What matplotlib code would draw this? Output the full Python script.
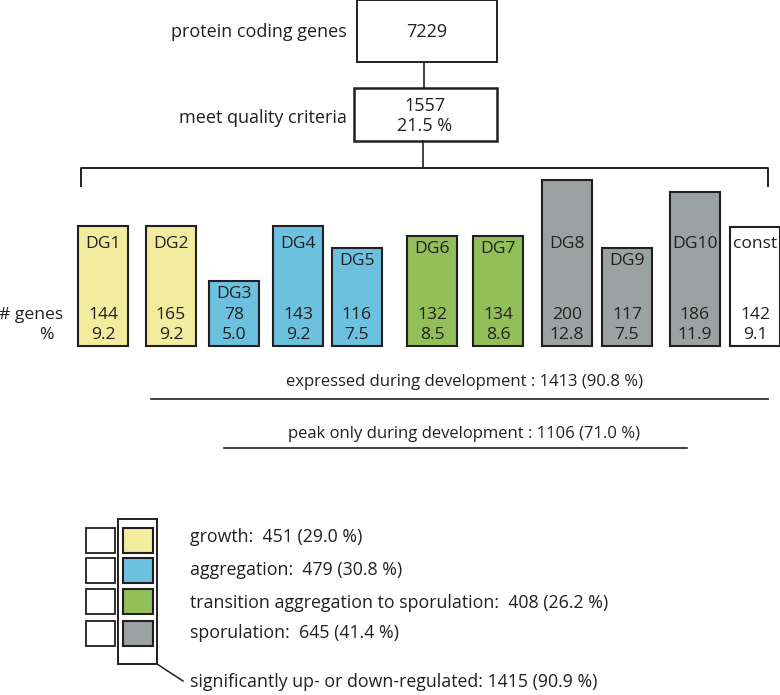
import numpy as np
from matplotlib import pyplot as plt
from matplotlib.patches import Rectangle
import matplotlib as mpl

mpl.rcParams['font.family'] = 'Open Sans'

# data
total_genes = 7229
quality_n = 1557
quality_pct = 21.5
groups = ['DG1', 'DG2', 'DG3', 'DG4', 'DG5', 'DG6', 'DG7', 'DG8', 'DG9', 'DG10', 'const']
counts = [144, 165, 78, 143, 116, 132, 134, 200, 117, 186, 142]
pcts = ['9.2', '9.2', '5.0', '9.2', '7.5', '8.5', '8.6', '12.8', '7.5', '11.9', '9.1']
# drawn bar heights (roughly # genes, DG2 drawn like DG1)
bar_heights = [144, 144, 78, 145, 118, 133, 133, 200, 118, 186, 143]
phase = ['growth', 'growth', 'aggregation', 'aggregation', 'aggregation', 'transition', 'transition',
         'sporulation', 'sporulation', 'sporulation', 'const']
expressed_text = 'expressed during development : 1413 (90.8 %)'
peak_text = 'peak only during development : 1106 (71.0 %)'
legend_labels = ['growth:  451 (29.0 %)', 'aggregation:  479 (30.8 %)',
                 'transition aggregation to sporulation:  408 (26.2 %)', 'sporulation:  645 (41.4 %)']
sig_text = 'significantly up- or down-regulated: 1415 (90.9 %)'

colors = {'growth': '#f3ec9f', 'aggregation': '#6cc1de', 'transition': '#93bf5a',
          'sporulation': '#9aa3a2', 'const': '#ffffff'}
ink = '#231f20'

W, H = 780, 695
fig = plt.figure(figsize=(W/100, H/100), dpi=100)

# bars (count units)
bar_left = [78, 146, 209, 273, 332, 407, 473, 542, 602, 670, 730]
bar_w = 50
base = 346
scale = 166 / 200
bx = fig.add_axes([0, (H - base) / H, 1, 200 * scale / H])
bx.set_xlim(0, W)
bx.set_ylim(0, 200)
bx.axis('off')
centers = np.array(bar_left) + bar_w / 2
bx.bar(centers, bar_heights, width=bar_w, color=[colors[p] for p in phase],
       edgecolor=ink, linewidth=1.5, clip_on=False)

# overlay axes in pixel units for everything else
ax = fig.add_axes([0, 0, 1, 1])
ax.set_zorder(2)
ax.set_xlim(0, W)
ax.set_ylim(H, 0)
ax.axis('off')

fs_top = 13
fs_bar = 12.6

# top boxes
ax.add_patch(Rectangle((357, 0), 140, 62, fill=False, ec=ink, lw=1.4))
ax.text(427, 32, str(total_genes), ha='center', va='center', fontsize=fs_top, color=ink)
ax.text(347, 32, 'protein coding genes', ha='right', va='center', fontsize=fs_top, color=ink)
ax.plot([424, 424], [62, 88], color=ink, lw=1.2)
ax.add_patch(Rectangle((354, 88), 143, 53, fill=False, ec=ink, lw=1.8))
ax.text(425, 106, str(quality_n), ha='center', va='center', fontsize=fs_top, color=ink)
ax.text(425, 126, '%.1f %%' % quality_pct, ha='center', va='center', fontsize=fs_top, color=ink)
ax.text(347, 118, 'meet quality criteria', ha='right', va='center', fontsize=fs_top, color=ink)
ax.plot([423, 423], [141, 168], color=ink, lw=1.2)
ax.plot([81, 81, 768, 768], [186, 168, 168, 186], color=ink, lw=1.4)

for c, g, n, p, h in zip(centers, groups, counts, pcts, bar_heights):
    top = base - h * scale
    ax.text(c, max(top + 13, 244), g, ha='center', va='center', fontsize=fs_bar, color=ink)
    ax.text(c, 315, str(n), ha='center', va='center', fontsize=fs_bar, color=ink)
    ax.text(c, 335, p, ha='center', va='center', fontsize=fs_bar, color=ink)
ax.text(63, 315, '# genes', ha='right', va='center', fontsize=fs_bar, color=ink)
ax.text(46, 335, '%', ha='center', va='center', fontsize=fs_bar, color=ink)

# development lines
ax.text(465, 382, expressed_text, ha='center', va='center', fontsize=12, color=ink)
ax.plot([151, 768], [399, 399], color=ink, lw=1.2)
ax.text(464, 434, peak_text, ha='center', va='center', fontsize=12, color=ink)
ax.plot([224, 687], [448, 448], color=ink, lw=1.2)

# legend
rows = [(528, 553), (558, 583), (589, 614), (621, 646)]
ytext = [537, 570, 603, 633]
for (y0, y1), ph, lab, yt in zip(rows, ['growth', 'aggregation', 'transition', 'sporulation'],
                                  legend_labels, ytext):
    ax.add_patch(Rectangle((86, y0), 29, y1 - y0, fc='white', ec=ink, lw=1.3))
    ax.add_patch(Rectangle((123, y0), 30, y1 - y0, fc=colors[ph], ec=ink, lw=1.5))
    ax.text(190, yt, lab, ha='left', va='center', fontsize=12.8, color=ink)
ax.add_patch(Rectangle((118, 519), 39, 145, fill=False, ec=ink, lw=1.4))
ax.plot([157, 183], [664, 681], color=ink, lw=1.1)
ax.text(190, 682, sig_text, ha='left', va='center', fontsize=12.8, color=ink)

plt.savefig('out.png', dpi=100)
